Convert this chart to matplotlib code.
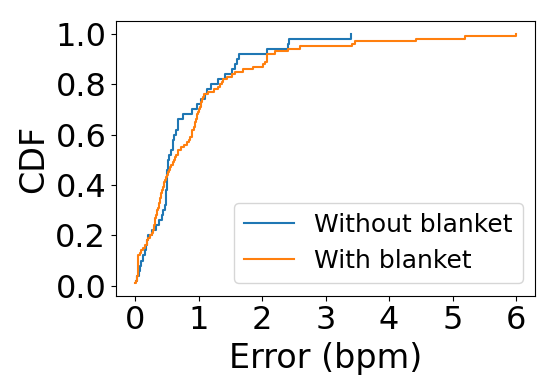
import numpy as np
import matplotlib
matplotlib.use('Agg')
import matplotlib.pyplot as plt

# errors (bpm)
errNoBlanket = [0.02, 0.03, 0.06, 0.08, 0.10, 0.13, 0.15, 0.17, 0.18, 0.21,
                0.27, 0.33, 0.38, 0.42, 0.44, 0.47, 0.48, 0.49, 0.49, 0.50,
                0.50, 0.51, 0.51, 0.52, 0.52, 0.53, 0.56, 0.59, 0.60, 0.62,
                0.65, 0.67, 0.68, 0.75, 0.90, 0.98, 1.04, 1.10, 1.14, 1.20,
                1.30, 1.42, 1.52, 1.58, 1.60, 1.63, 2.08, 2.40, 2.42, 3.40]

errBlanket = [0.00, 0.02, 0.03, 0.03, 0.04, 0.04, 0.04, 0.05, 0.05, 0.05,
              0.05, 0.05, 0.08, 0.10, 0.13, 0.16, 0.18, 0.19, 0.21, 0.24,
              0.27, 0.28, 0.29, 0.30, 0.31, 0.32, 0.32, 0.33, 0.34, 0.35,
              0.36, 0.37, 0.38, 0.39, 0.39, 0.40, 0.41, 0.43, 0.44, 0.45,
              0.46, 0.47, 0.49, 0.51, 0.52, 0.54, 0.55, 0.57, 0.59, 0.61,
              0.63, 0.65, 0.67, 0.68, 0.72, 0.77, 0.82, 0.85, 0.87, 0.89,
              0.90, 0.90, 0.92, 0.94, 0.95, 0.96, 0.97, 0.98, 0.99, 1.00,
              1.02, 1.03, 1.04, 1.05, 1.07, 1.08, 1.15, 1.25, 1.30, 1.33,
              1.37, 1.39, 1.45, 1.52, 1.58, 1.70, 1.85, 2.02, 2.05, 2.07,
              2.08, 2.08, 2.20, 2.40, 2.60, 3.42, 3.47, 4.42, 5.20, 6.00]

labels = ['Without blanket', 'With blanket']


def cdf(errs):
    xs = np.sort(np.array(errs))
    ys = np.arange(1, len(xs) + 1) / len(xs)
    return xs, ys


fig = plt.figure(figsize=(5.5, 3.82), dpi=100)
ax = fig.add_axes([0.211, 0.226, 0.762, 0.718])
for errs, lab in zip([errNoBlanket, errBlanket], labels):
    xs, ys = cdf(errs)
    ax.plot(xs, ys, drawstyle='steps-post', lw=1.5, label=lab)

ax.set_xlabel('Error (bpm)', fontsize=24)
ax.set_ylabel('CDF', fontsize=24)
ax.tick_params(labelsize=23)
ax.set_xticks(range(7))
ax.set_yticks([0.0, 0.2, 0.4, 0.6, 0.8, 1.0])
ax.legend(loc='lower right', fontsize=18)
fig.savefig('out.png', dpi=100)
